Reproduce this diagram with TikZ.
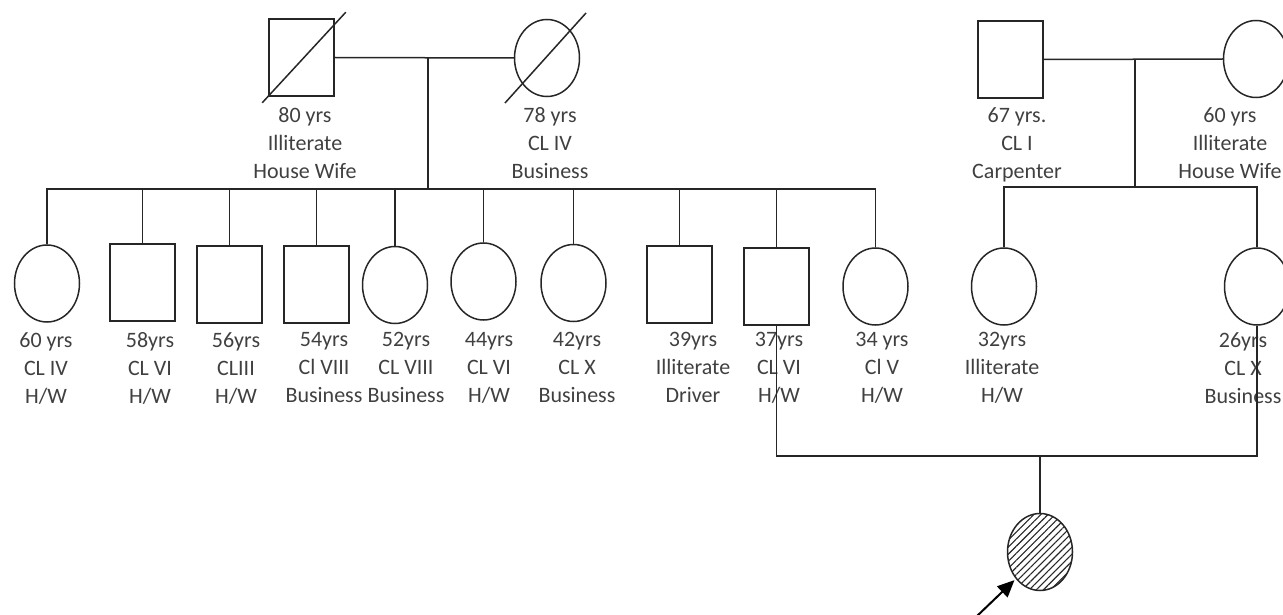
\documentclass[tikz,border=0pt]{standalone}
\usepackage{fontspec}
\setmainfont{Carlito}
\usetikzlibrary{arrows.meta,calc,shapes.geometric,patterns.meta}
\definecolor{inkgray}{RGB}{38,38,38}
\definecolor{textgray}{RGB}{64,64,64}
\tikzset{
  kin/.style={draw=inkgray, line width=1.5pt},
  male/.style={shape=rectangle, draw=inkgray, line width=1.5pt, minimum width=65pt, minimum height=77pt, inner sep=0pt},
  female/.style={shape=ellipse, draw=inkgray, line width=1.5pt, minimum width=65pt, minimum height=77pt, inner sep=0pt},
  affected/.style={female, pattern={Lines[angle=45,distance=5pt,line width=1.1pt]}, pattern color=inkgray},
  info/.style={anchor=north, align=center, inner sep=0pt, text=textgray, font=\fontsize{22}{28}\selectfont},
  pointer/.style={-{Triangle[length=17pt,width=15pt]}, draw=black, line width=2pt, shorten >=2pt}
}

\begin{document}
\begin{tikzpicture}[x=1pt,y=-1pt]
  \useasboundingbox (0,0) rectangle (1283,615);

  % first couple
  \node[male] (pgf) at (301.5,57.5) {};
  \node[female] (pgm) at (547,58) {};
  \node[info] (pgfinfo) at (305,107) {80 yrs\\Illiterate\\House Wife};
  \node[info] (pgminfo) at (550,107) {78 yrs\\CL IV\\Business};
  \draw[kin] ($(pgf.south west)+(-6,6)$) -- ($(pgf.north east)+(11,-6)$);
  \draw[kin] ($(pgm.center)+(-42,45)$) -- ($(pgm.center)+(39,-45)$);

  % second couple
  \node[male] (mgf) at (1010.5,59.5) {};
  \node[female] (mgm) at (1256,59) {};
  \node[info] (mgfinfo) at (1017,107) {67 yrs.\\CL I\\Carpenter};
  \node[info] (mgminfo) at (1230,107) {60 yrs\\Illiterate\\House Wife};

  % sibship of the first couple
  \node[female] (c1) at (47,283.5) {};
  \node[male] (c2) at (142.5,282.5) {};
  \node[male] (c3) at (229.5,284.5) {};
  \node[male] (c4) at (316.5,284.5) {};
  \node[female] (c5) at (395,285) {};
  \node[female] (c6) at (483.5,281.5) {};
  \node[female] (c7) at (573.5,283) {};
  \node[male] (c8) at (679.5,284.5) {};
  \node[male] (c9) at (776.5,286.5) {};
  \node[female] (c10) at (875.5,286.5) {};

  % sibship of the second couple
  \node[female] (c11) at (1004,286.5) {};
  \node[female] (c12) at (1257,286.5) {};

  \node[info] at (46,332) {60 yrs\\CL IV\\H/W};
  \node[info] at (150,332) {58yrs\\CL VI\\H/W};
  \node[info] at (236,332) {56yrs\\CLIII\\H/W};
  \node[info] at (324,332) {54yrs\\Cl VIII\\Business};
  \node[info] at (406,332) {52yrs\\CL VIII\\Business};
  \node[info] at (489,332) {44yrs\\CL VI\\H/W};
  \node[info] at (577,332) {42yrs\\CL X\\Business};
  \node[info] at (693,332) {39yrs\\Illiterate\\Driver};
  \node[info] at (779,332) {37yrs\\CL VI\\H/W};
  \node[info] at (882,332) {34 yrs\\Cl V\\H/W};
  \node[info] at (1002,332) {32yrs\\Illiterate\\H/W};
  \node[info] at (1243,332) {26yrs\\CL X\\Business};

  % marriage and descent lines
  \coordinate (sibL) at (428,189);
  \coordinate (sibR) at (1135,187);
  \draw[kin] (pgf.east) -- (pgm.west);
  \draw[kin] (sibL |- pgf.east) -- (sibL);
  \draw[kin] (c1.north) -- (c1.north |- sibL) -- (c10.north |- sibL) -- (c10.north);
  \foreach \k in {c2,c3,c4,c5,c6,c7,c8,c9}
    \draw[kin] (\k.north) -- (\k.north |- sibL);

  \draw[kin] (mgf.east) -- (mgm.west);
  \draw[kin] (sibR |- mgf.east) -- (sibR);
  \draw[kin] (c11.north) -- (c11.north |- sibR) -- (c12.north |- sibR) -- (c12.north);

  % consanguineous union and proband
  \draw[kin] (c9.south) -- ++(0,130) coordinate (mate) -| (c12.south);
  \node[affected] (proband) at (1040,552) {};
  \draw[kin] (proband.north) -- (proband.north |- mate);

  \coordinate (pointerfoot) at (976,617);
  \draw[pointer] (pointerfoot) -- (proband.228);
\end{tikzpicture}
\end{document}
